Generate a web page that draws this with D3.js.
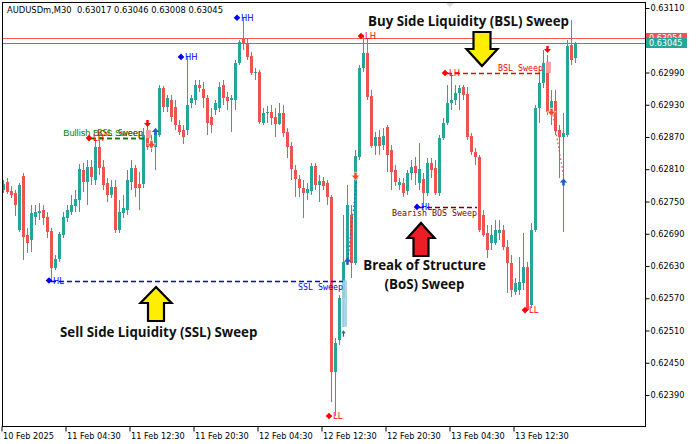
<!DOCTYPE html>
<html><head><meta charset="utf-8">
<script src="https://cdn.jsdelivr.net/npm/d3@7"></script>
<style>body{margin:0;background:#fff}svg{display:block}text{white-space:pre}</style>
</head><body><svg id="c" width="697" height="444"></svg>
<script>
// ---- data ----
const symbolTitle = "AUDUSDm,M30  0.63017 0.63046 0.63008 0.63045";
const opens = [0.62772,0.62787,0.62770,0.62766,0.62697,0.62798,0.62688,0.62679,0.62721,0.62729,0.62734,0.62721,0.62695,0.62627,0.62643,0.62688,0.62720,0.62731,0.62742,0.62753,0.62809,0.62787,0.62814,0.62790,0.62852,0.62814,0.62785,0.62762,0.62777,0.62697,0.62729,0.62734,0.62787,0.62813,0.62783,0.62783,0.62883,0.62859,0.62852,0.62874,0.62961,0.62926,0.62939,0.62926,0.62893,0.62883,0.62883,0.62933,0.62939,0.62967,0.62960,0.62943,0.62907,0.62920,0.62924,0.62967,0.62945,0.62939,0.62939,0.63008,0.63053,0.63045,0.63021,0.62989,0.62991,0.62896,0.62915,0.62917,0.62907,0.62894,0.62915,0.62880,0.62853,0.62809,0.62792,0.62775,0.62766,0.62770,0.62816,0.62781,0.62788,0.62785,0.62759,0.62433,0.62493,0.62571,0.62638,0.62725,0.62636,0.62833,0.62999,0.63026,0.62946,0.62853,0.62870,0.62855,0.62889,0.62846,0.62809,0.62781,0.62785,0.62770,0.62803,0.62816,0.62785,0.62792,0.62766,0.62822,0.62813,0.62766,0.62868,0.62896,0.62933,0.62939,0.62952,0.62963,0.62950,0.62872,0.62842,0.62833,0.62725,0.62692,0.62673,0.62673,0.62692,0.62697,0.62666,0.62636,0.62582,0.62586,0.62599,0.62628,0.62558,0.62697,0.62924,0.62971,0.63010,0.62924,0.62937,0.62883,0.62870,0.62874,0.63041,0.63017];
const highs = [0.62790,0.62794,0.62779,0.62772,0.62785,0.62803,0.62701,0.62744,0.62744,0.62747,0.62744,0.62731,0.62701,0.62651,0.62694,0.62731,0.62744,0.62762,0.62772,0.62820,0.62822,0.62827,0.62827,0.62868,0.62865,0.62827,0.62794,0.62790,0.62790,0.62753,0.62762,0.62809,0.62827,0.62818,0.62805,0.62887,0.62898,0.62874,0.62887,0.62967,0.62965,0.62948,0.62948,0.62939,0.62902,0.62893,0.63020,0.62948,0.62976,0.62976,0.62973,0.62948,0.62924,0.62939,0.62973,0.62976,0.62954,0.62948,0.63013,0.63051,0.63092,0.63054,0.63028,0.62999,0.62995,0.62924,0.62928,0.62930,0.62924,0.62933,0.62930,0.62887,0.62861,0.62818,0.62800,0.62790,0.62785,0.62822,0.62822,0.62800,0.62796,0.62790,0.62762,0.62496,0.62576,0.62725,0.62781,0.62744,0.62846,0.63004,0.63058,0.63054,0.62958,0.62880,0.62883,0.62887,0.62893,0.62855,0.62818,0.62794,0.62794,0.62809,0.62827,0.62833,0.62859,0.62803,0.62831,0.62831,0.62827,0.62874,0.62906,0.62967,0.62989,0.62967,0.62967,0.62967,0.62963,0.62878,0.62850,0.62837,0.62734,0.62707,0.62707,0.62716,0.62716,0.62707,0.62679,0.62651,0.62608,0.62647,0.62692,0.62638,0.62710,0.62930,0.62991,0.63032,0.63023,0.62958,0.62958,0.62893,0.62915,0.63051,0.63088,0.63046];
const lows = [0.62766,0.62764,0.62757,0.62723,0.62694,0.62641,0.62654,0.62656,0.62707,0.62716,0.62707,0.62682,0.62604,0.62623,0.62638,0.62682,0.62712,0.62725,0.62731,0.62731,0.62768,0.62744,0.62781,0.62781,0.62800,0.62772,0.62749,0.62757,0.62692,0.62692,0.62720,0.62725,0.62772,0.62759,0.62734,0.62775,0.62846,0.62842,0.62809,0.62870,0.62917,0.62917,0.62898,0.62883,0.62874,0.62857,0.62874,0.62924,0.62930,0.62954,0.62924,0.62874,0.62878,0.62911,0.62917,0.62930,0.62920,0.62880,0.62920,0.63004,0.63032,0.63013,0.62986,0.62976,0.62894,0.62893,0.62896,0.62893,0.62870,0.62893,0.62870,0.62831,0.62790,0.62759,0.62759,0.62720,0.62753,0.62762,0.62772,0.62749,0.62772,0.62744,0.62377,0.62351,0.62483,0.62517,0.62632,0.62608,0.62632,0.62827,0.62991,0.62939,0.62850,0.62837,0.62837,0.62846,0.62805,0.62772,0.62779,0.62772,0.62759,0.62762,0.62790,0.62781,0.62772,0.62740,0.62760,0.62794,0.62762,0.62760,0.62865,0.62893,0.62920,0.62930,0.62920,0.62939,0.62865,0.62837,0.62818,0.62694,0.62684,0.62645,0.62660,0.62669,0.62679,0.62660,0.62580,0.62573,0.62576,0.62576,0.62586,0.62547,0.62552,0.62694,0.62896,0.62961,0.62911,0.62893,0.62874,0.62794,0.62694,0.62870,0.63004,0.63008];
const closes = [0.62783,0.62768,0.62762,0.62744,0.62781,0.62684,0.62673,0.62729,0.62731,0.62733,0.62720,0.62694,0.62627,0.62643,0.62690,0.62721,0.62734,0.62744,0.62755,0.62811,0.62787,0.62814,0.62796,0.62852,0.62813,0.62781,0.62762,0.62777,0.62697,0.62731,0.62738,0.62790,0.62813,0.62775,0.62775,0.62874,0.62852,0.62850,0.62878,0.62961,0.62926,0.62943,0.62907,0.62893,0.62880,0.62870,0.62930,0.62943,0.62967,0.62961,0.62943,0.62896,0.62893,0.62933,0.62963,0.62943,0.62937,0.62943,0.63008,0.63047,0.63045,0.63019,0.62989,0.62991,0.62898,0.62915,0.62917,0.62906,0.62894,0.62915,0.62878,0.62853,0.62811,0.62792,0.62775,0.62766,0.62774,0.62816,0.62781,0.62788,0.62779,0.62759,0.62433,0.62487,0.62571,0.62638,0.62744,0.62636,0.62835,0.62999,0.63026,0.62945,0.62853,0.62870,0.62853,0.62872,0.62837,0.62805,0.62787,0.62787,0.62766,0.62803,0.62814,0.62803,0.62811,0.62766,0.62822,0.62809,0.62766,0.62868,0.62896,0.62933,0.62939,0.62952,0.62961,0.62948,0.62870,0.62842,0.62833,0.62697,0.62688,0.62660,0.62688,0.62697,0.62697,0.62666,0.62636,0.62586,0.62599,0.62601,0.62628,0.62548,0.62697,0.62924,0.62971,0.63008,0.62917,0.62937,0.62881,0.62870,0.62878,0.63039,0.63013,0.63045];

const timeTickIdx = [0,16,32,48,64,80,96,112,128];
const timeTickLabels = ["10 Feb 2025","11 Feb 04:30","11 Feb 12:30","11 Feb 20:30","12 Feb 04:30","12 Feb 12:30","12 Feb 20:30","13 Feb 04:30","13 Feb 12:30"];
const priceTicks = [0.62390,0.62450,0.62510,0.62570,0.62630,0.62690,0.62750,0.62810,0.62870,0.62930,0.62990,0.63050,0.63110];
const hiddenTickLabel = 0.63050; // covered by the price boxes in the reference
const askPrice = 0.63054, bidPrice = 0.63045;

// swing points
const swingIdx   = [12, 22, 45, 59, 82, 90, 104, 111, 131];
const swingPrice = [0.62603,0.62868,0.63019,0.63092,0.62351,0.63058,0.62740,0.62989,0.62548];
const swingLabel = ["HL","LH","HH","HH","LL","LH","HL","LH","LL"];

// sweep levels
const sweepFrom  = [12, 22, 22, 104, 111];
const sweepTo    = [85, 36, 36, 118.5, 135];
const sweepPrice = [0.62603,0.62868,0.62868,0.62740,0.62989];
const sweepText  = ["SSL Sweep","BSL Sweep","Bullish BOS Sweep","Bearish BOS Sweep","BSL Sweep"];
const sweepKind  = ["ssl","bsl","bos+","bos-","bsl"];

// highlighted sweep candles
const hiIdx  = [36, 85, 136];
const hiFrom = [0.62868, 0.62603, 0.62989];
const hiTo   = [0.62883, 0.62517, 0.63010];
const hiKind = ["bsl","ssl","bsl"];

// signal arrows
const sigIdx   = [36, 37, 38, 88, 86, 85, 136, 137, 140];
const sigPrice = [0.62894,0.62855,0.62881,0.62796,0.62640,0.62506,0.63032,0.62915,0.62787];
const sigType  = ["down","warn","up","warn","up","upSmall","down","warn","up"];
const linkFrom = [88, 137], linkFromPrice=[0.62794,0.62911];
const linkTo   = [86, 140], linkToPrice=[0.62645,0.62793];
const linkColor= ["#1e5fd0","#f04040"];

// ---- drawing ----
const N = opens.length;
const svg = d3.select("#c");
const L = 2.5, R = 645.5, T = 2.5, B = 426.5;
const x = d3.scaleLinear().domain([0, N-1]).range([3, 575]);
const y = d3.scaleLinear().domain([0.62390, 0.63110]).range([395, 8]);
const GREEN = "#26a69a", RED = "#ef5350";
const px = i => Math.round(x(i));

svg.append("rect").attr("width",697).attr("height",444).attr("fill","#fff");

// header
svg.append("text").attr("x",7).attr("y",12.5).attr("font-family","DejaVu Sans").attr("font-size","8.35px")
  .attr("fill","#000").text(symbolTitle);

// gray shift marker
svg.append("path").attr("d","M446,3 L454,3 L450,7.5 Z").attr("fill","#dcdcdc");

// price lines
svg.append("line").attr("x1",L).attr("x2",R).attr("y1",Math.round(y(askPrice))+0.5).attr("y2",Math.round(y(askPrice))+0.5).attr("stroke","#f05a5a").attr("stroke-width",1);
svg.append("line").attr("x1",L).attr("x2",R).attr("y1",Math.round(y(bidPrice))+0.5).attr("y2",Math.round(y(bidPrice))+0.5).attr("stroke",GREEN).attr("stroke-width",1);

// highlight rects (behind candles)
const hiCol = {bsl:"#f5a3a3", ssl:"#a9d6e8"};
svg.append("g").selectAll("rect").data(hiIdx).join("rect")
  .attr("x",(d)=>px(d)-1).attr("width",5)
  .attr("y",(d,k)=>Math.min(y(hiFrom[k]),y(hiTo[k])))
  .attr("height",(d,k)=>Math.abs(y(hiFrom[k])-y(hiTo[k])))
  .attr("fill",(d,k)=>hiCol[hiKind[k]]);

// candles
const idx = d3.range(N);
const cg = svg.append("g").attr("shape-rendering","crispEdges");
const col = i => closes[i] >= opens[i] ? GREEN : RED;
cg.selectAll("line").data(idx).join("line")
  .attr("x1",i=>px(i)+0.5).attr("x2",i=>px(i)+0.5)
  .attr("y1",i=>y(highs[i])).attr("y2",i=>y(lows[i]))
  .attr("stroke",col).attr("stroke-width",1);
cg.selectAll("rect").data(idx).join("rect")
  .attr("x",i=>px(i)-1).attr("width",3)
  .attr("y",i=>Math.round(y(Math.max(opens[i],closes[i]))))
  .attr("height",i=>Math.max(1,Math.round(Math.abs(y(opens[i])-y(closes[i])))))
  .attr("fill",col);
svg.append("g").selectAll("rect").data(hiIdx).join("rect")
  .attr("x",(d)=>px(d)-1).attr("width",4)
  .attr("y",(d,k)=>Math.min(y(hiFrom[k]),y(hiTo[k])))
  .attr("height",(d,k)=>Math.abs(y(hiFrom[k])-y(hiTo[k])))
  .attr("fill",(d,k)=>hiCol[hiKind[k]]).attr("opacity",0.85);

// sweep lines & labels
const sweepCol = {ssl:"#0000ff", bsl:"#ff0000", "bos+":"#008000", "bos-":"#800000"};
const sg = svg.append("g");
sweepPrice.forEach((p,k)=>{
  const yy = Math.round(y(p))+0.5;
  const x1 = x(sweepFrom[k]) , x2 = x(sweepTo[k]);
  sg.append("line").attr("x1",x1).attr("x2",x2).attr("y1",yy).attr("y2",yy)
    .attr("stroke",sweepCol[sweepKind[k]]).attr("stroke-width",1.6).attr("stroke-dasharray","5,3");
});
const lblFont = {ssl:"DejaVu Sans Mono", bsl:"DejaVu Sans Mono", "bos+":"Liberation Sans", "bos-":"DejaVu Sans Mono"};
sweepText.forEach((t,k)=>{
  const kind = sweepKind[k];
  const yy = y(sweepPrice[k]);
  const below = (kind==="ssl"||kind==="bos-");
  let xr = x(sweepTo[k]);
  if (k===1||k===2) xr = x(sweepTo[k]) - 4;
  sg.append("text").attr("x",xr).attr("y", below ? yy+9.5 : yy-2.5)
    .attr("text-anchor","end").attr("font-family",lblFont[kind])
    .attr("font-size", kind==="bos+" ? "9.2px" : (k===1 ? "8.4px" : "8.3px"))
    .attr("fill",sweepCol[kind]).text(t);
});

// swing diamonds + labels
const sw = svg.append("g");
swingIdx.forEach((i,k)=>{
  const cx = x(i)-2, cy = y(swingPrice[k]);
  const c = (swingLabel[k]==="HH" || swingLabel[k]==="HL") ? "#0000ff" : "#ff0000";
  sw.append("path").attr("d",`M${cx},${cy-3.3} L${cx+3.3},${cy} L${cx},${cy+3.3} L${cx-3.3},${cy} Z`).attr("fill",c);
  sw.append("text").attr("x",cx+4).attr("y",cy+3.2).attr("font-family","DejaVu Sans").attr("font-size","8.4px")
    .attr("fill",c).text(swingLabel[k]);
});

// dotted links
const lg = svg.append("g");
linkFrom.forEach((f,k)=>{
  lg.append("line").attr("x1",x(f)+2).attr("y1",y(linkFromPrice[k])).attr("x2",x(linkTo[k])+1).attr("y2",y(linkToPrice[k]))
    .attr("stroke",linkColor[k]).attr("stroke-width",1.2).attr("stroke-dasharray","1.5,2.5");
});

// signal arrows
const ag = svg.append("g");
sigIdx.forEach((i,k)=>{
  const cx = x(i)+0.5, cy = y(sigPrice[k]);
  const t = sigType[k];
  let d, fill, stroke="none";
  if (t==="down") { d=`M${cx-1.2},${cy-4} h2.4 v3 h2.3 l-3.5,4 l-3.5,-4 h2.3 z`; fill="#ff0000"; }
  else if (t==="warn") { d=`M${cx-1.6},${cy-4.5} h3.2 v3 h2.6 l-4.2,5 l-4.2,-5 h2.6 z`; fill="#f04a2a"; stroke="#fff"; }
  else if (t==="up") { d=`M${cx-1.3},${cy+4} h2.6 v-3 h2.4 l-3.7,-4.2 l-3.7,4.2 h2.4 z`; fill="#1e5fc8"; }
  else { d=`M${cx-0.6},${cy+4} h1.2 v-3.5 h1.6 l-2.2,-3 l-2.2,3 h1.6 z`; fill="#1e5fc8"; }
  ag.append("path").attr("d",d).attr("fill",fill).attr("stroke",stroke).attr("stroke-width",0.6);
});

// big annotation arrows
function bigArrow(tx, ty, dir, headW, headH, shaftW, total, fill){
  const s = dir;
  const hb = ty + s*headH, end = ty + s*total;
  const d = `M${tx},${ty} L${tx+headW/2},${hb} L${tx+shaftW/2},${hb} L${tx+shaftW/2},${end} L${tx-shaftW/2},${end} L${tx-shaftW/2},${hb} L${tx-headW/2},${hb} Z`;
  svg.append("path").attr("d",d).attr("fill",fill).attr("stroke","#000").attr("stroke-width",2.2).attr("stroke-linejoin","miter");
}
bigArrow(156, 287, 1, 31, 16, 16, 34, "#ffee00");
bigArrow(482, 66, -1, 31, 17, 17, 34, "#ffee00");
bigArrow(421, 223, 1, 27, 15, 15, 33, "#ee1c25");

// annotation texts
const annoFont = "'Open Sans', sans-serif";
const at = svg.append("g").attr("font-family",annoFont).attr("font-weight","bold").attr("font-size","13.3px").attr("fill","#111");
at.append("text").attr("x",60).attr("y",337).text("Sell Side Liquidity (SSL) Sweep");
at.append("text").attr("x",424.5).attr("y",270).attr("text-anchor","middle").text("Break of Structure");
at.append("text").attr("x",424.5).attr("y",289).attr("text-anchor","middle").text("(BoS) Sweep");
at.append("text").attr("x",368).attr("y",26).text("Buy Side Liquidity (BSL) Sweep");

// frame
svg.append("rect").attr("x",L).attr("y",T).attr("width",R-L).attr("height",B-T).attr("fill","none").attr("stroke","#000").attr("stroke-width",1);

// y axis
const yAxis = d3.axisRight(y).tickValues(priceTicks).tickSize(4).tickPadding(1)
  .tickFormat(d => d === hiddenTickLabel ? "" : d3.format(".5f")(d));
const ya = svg.append("g").attr("transform",`translate(${R},0)`).call(yAxis);
ya.select(".domain").remove();
ya.selectAll("line").attr("stroke","#000");
ya.selectAll("text").attr("font-family","DejaVu Sans").attr("font-size","8.2px").attr("fill","#000");

// x axis
const xAxis = d3.axisBottom(x).tickValues(timeTickIdx).tickSize(5).tickFormat((d,k)=>timeTickLabels[k]);
const xa = svg.append("g").attr("transform",`translate(-1.5,${B})`).call(xAxis);
xa.select(".domain").remove();
xa.selectAll("line").attr("stroke","#000");
xa.selectAll("text").attr("text-anchor","start").attr("x",1).attr("y",7).attr("dy","0.71em")
  .attr("font-family","DejaVu Sans").attr("font-size","8.2px").attr("fill","#000");

// price boxes
function priceBox(p, color){
  const yy = Math.round(y(p));
  svg.append("rect").attr("x",646).attr("y",yy-5).attr("width",41).attr("height",10).attr("fill",color);
  svg.append("text").attr("x",649).attr("y",yy+3.3).attr("font-family","DejaVu Sans").attr("font-size","8.1px").attr("fill","#fff").text(d3.format(".5f")(p));
}
priceBox(askPrice, RED);
priceBox(bidPrice, GREEN);
</script></body></html>
